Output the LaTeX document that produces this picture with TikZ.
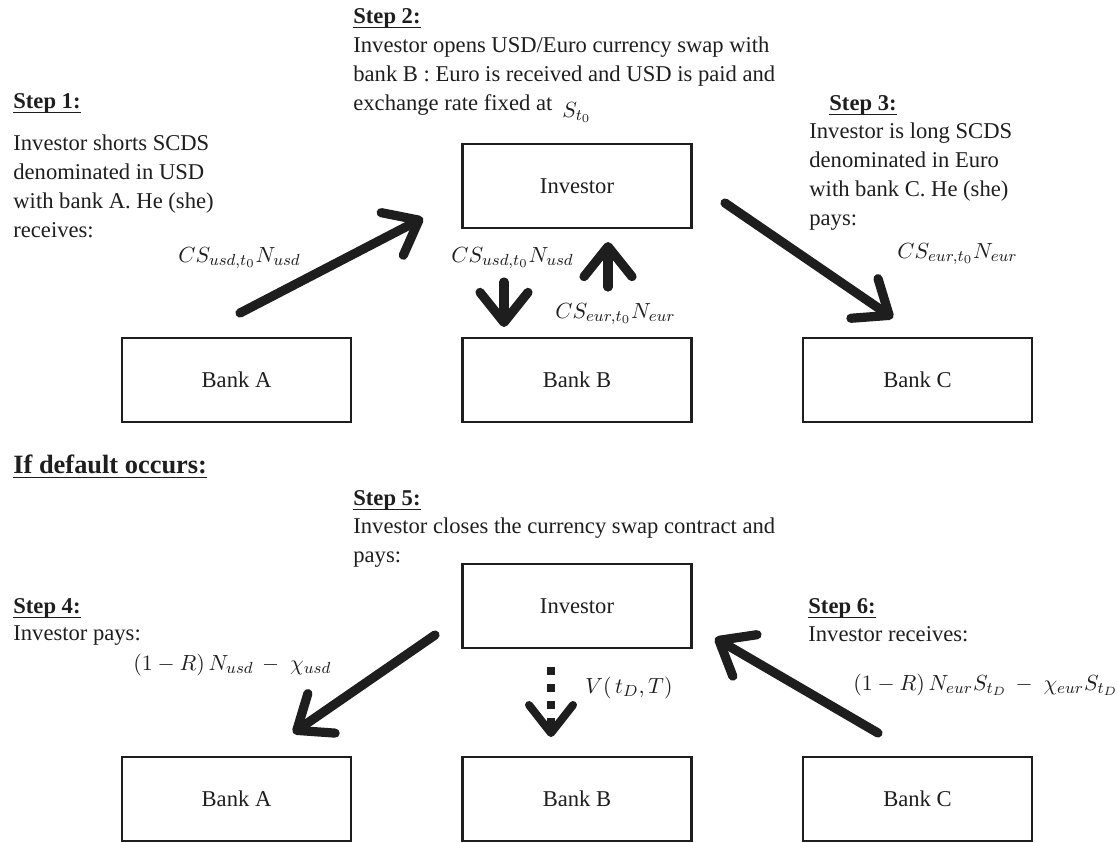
\documentclass[tikz,border=0pt]{standalone}
\usepackage{fontspec}
\setmainfont{Liberation Serif}
\usetikzlibrary{arrows.meta}
\definecolor{ink}{RGB}{30,30,30}
\newcommand\bodyfnt{\fontsize{11.3}{14.4}\selectfont}
\newcommand\deffnt{\fontsize{13.2}{16}\selectfont}
\newcommand\mathfnt{\fontsize{11.3}{14}\selectfont}
\newcommand\hdul[1]{\setbox0\hbox{#1}\rlap{\rule[-2.6pt]{\wd0}{0.7pt}}\box0}
\tikzset{
  box/.style={draw=ink, line width=1.1pt, minimum width=114.5pt, minimum height=42pt, inner sep=0pt, font=\bodyfnt, text=ink},
  txt/.style={anchor=base west, inner sep=0pt, align=left, font=\bodyfnt, text=ink},
  hd/.style={anchor=base west, inner sep=0pt, font=\bodyfnt\bfseries, text=ink},
  lbl/.style={anchor=base west, inner sep=0pt, font=\mathfnt, text=ink},
  flow/.style={draw=ink, line width=4.6pt, line cap=round, -{Straight Barb[round,length=15pt,width=24pt]}},
  dotflow/.style={draw=ink, line width=4pt, line cap=butt, dash pattern=on 4pt off 4.5pt, -{Straight Barb[round,length=14pt,width=22pt]}},
}
\begin{document}
\begin{tikzpicture}[x=0.5pt,y=-0.5pt]
\useasboundingbox (0,0) rectangle (1117,842);
% boxes
\node[box] (inv1) at (577,186) {Investor};
\node[box] (bA1) at (236.5,380) {Bank A};
\node[box] (bB1) at (577,380) {Bank B};
\node[box] (bC1) at (917.5,380) {Bank C};
\node[box] (inv2) at (577,606) {Investor};
\node[box] (bA2) at (236.5,799) {Bank A};
\node[box] (bB2) at (577,799) {Bank B};
\node[box] (bC2) at (917.5,799) {Bank C};
% texts (multi-line nodes are placed by the baseline of their last line)
\node[hd] (s1h) at (13,108) {\hdul{Step 1:}};
\node[txt] (s1t) at (13,237) {Investor shorts SCDS\\denominated in USD\\with bank A. He (she)\\receives:};
\node[hd] (s2h) at (353,23) {\hdul{Step 2:}};
\node[txt] (s2t) at (353,110) {Investor opens USD/Euro currency swap with\\bank B : Euro is received and USD is paid and\\exchange rate fixed at};
\node[lbl] (st0) at (562,117) {$S_{t_0}$};
\node[hd] (s3h) at (829,110) {\hdul{Step 3:}};
\node[txt] (s3t) at (809,225) {Investor is long SCDS\\denominated in Euro\\with bank C. He (she)\\pays:};
\node[lbl] (m1) at (178,262) {$CS_{usd,t_0}N_{usd}$};
\node[lbl] (m2) at (451,262) {$CS_{usd,t_0}N_{usd}$};
\node[lbl] (m3) at (555,318) {$CS_{eur,t_0}N_{eur}$};
\node[lbl] (m4) at (897,258) {$CS_{eur,t_0}N_{eur}$};
\node[anchor=base west, inner sep=0pt, font=\deffnt\bfseries, text=ink] (def) at (13,473) {\hdul{If default occurs:}};
\node[hd] (s5h) at (353,505) {\hdul{Step 5:}};
\node[txt] (s5t) at (353,562) {Investor closes the currency swap contract and\\pays:};
\node[hd] (s4h) at (13,613) {\hdul{Step 4:}};
\node[txt] (s4t) at (13,640) {Investor pays:};
\node[lbl] (m5) at (133,670) {$(1-R)\,N_{usd}\,-\;\chi_{usd}$};
\node[hd] (s6h) at (808,613) {\hdul{Step 6:}};
\node[txt] (s6t) at (808,641) {Investor receives:};
\node[lbl] (m6) at (853,690) {$(1-R)\,N_{eur}S_{t_D}\,-\;\chi_{eur}S_{t_D}$};
\node[lbl] (m7) at (585,693) {$V(\,t_D,T)$};
% arrow end points
\coordinate (a1s) at (240,313);
\coordinate (a1e) at (423,218);
\coordinate (a3s) at (725,203);
\coordinate (a3e) at (893,318);
\coordinate (d1s) at (504,282);
\coordinate (d1e) at (504,327);
\coordinate (u1s) at (608,287);
\coordinate (u1e) at (608,242);
\coordinate (a4s) at (435,635);
\coordinate (a4e) at (293,733);
\coordinate (a6s) at (878,733);
\coordinate (a6e) at (715,638);
\coordinate (v1s) at (551,667);
\coordinate (v1e) at (551,737);
% arrows
\draw[flow] (a1s) -- (a1e);
\draw[flow] (a3s) -- (a3e);
\draw[flow] (d1s) -- (d1e);
\draw[flow] (u1s) -- (u1e);
\draw[flow] (a4s) -- (a4e);
\draw[flow] (a6s) -- (a6e);
\draw[dotflow] (v1s) -- (v1e);
\end{tikzpicture}
\end{document}
